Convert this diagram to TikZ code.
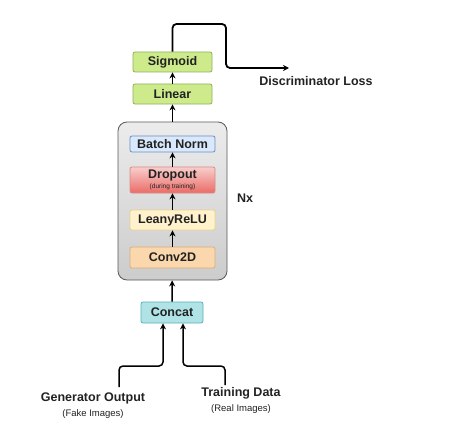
\documentclass[tikz,border=0pt]{standalone}
\usepackage{fontspec}
\setmainfont{Liberation Sans}
\usetikzlibrary{arrows.meta}
\definecolor{greenfill}{HTML}{CDEB8B}
\definecolor{greenline}{HTML}{8FAF5E}
\definecolor{bluefill}{HTML}{DAE8FC}
\definecolor{blueline}{HTML}{6C8EBF}
\definecolor{redtop}{HTML}{F8CECC}
\definecolor{redbot}{HTML}{EA6B66}
\definecolor{redline}{HTML}{D98A88}
\definecolor{yellowfill}{HTML}{FFF2CC}
\definecolor{yellowline}{HTML}{E8D38A}
\definecolor{orangefill}{HTML}{FAD7AC}
\definecolor{orangeline}{HTML}{D9AE7C}
\definecolor{tealfill}{HTML}{B0E3E6}
\definecolor{tealline}{HTML}{56B1B6}
\definecolor{textgray}{HTML}{222222}
\tikzset{
  layer/.style={rounded corners=2pt, line width=0.8pt, minimum width=85pt,
    inner sep=0pt, text=textgray, font=\fontsize{12.5}{13}\selectfont\bfseries},
  bigtext/.style={font=\fontsize{12.5}{13}\selectfont\bfseries, text=textgray},
  smalltext/.style={font=\fontsize{9.5}{10}\selectfont, text=textgray},
  flow/.style={-{Stealth[length=6pt,width=6pt]}, line width=1.5pt, black}
}
\begin{document}
\begin{tikzpicture}[x=1pt, y=1pt]
    \useasboundingbox (0,0) rectangle (458,-428);
    % repeated block
    \node[draw=gray!70!black, line width=0.8pt, rounded corners=9pt, top color=gray!15,
      bottom color=gray!40, minimum width=109pt, minimum height=158pt] (block) at (172.5,-201) {};
    \node[layer, draw=blueline, fill=bluefill, minimum height=16pt] (bn) at (172.5,-144) {Batch Norm};
    \node[layer, draw=redline, top color=redtop, bottom color=redbot, minimum height=26pt,
      align=center] (drop) at (172.5,-180) {Dropout\\[-3pt]{\fontsize{6.5}{6.5}\selectfont\mdseries (during training)}};
    \node[layer, draw=yellowline, fill=yellowfill, minimum height=20pt] (relu) at (172.5,-220) {LeanyReLU};
    \node[layer, draw=orangeline, fill=orangefill, minimum height=21pt] (conv) at (172.5,-257.5) {Conv2D};
    \node[bigtext] (nx) at (245,-198) {Nx};
    % head
    \node[layer, draw=greenline, fill=greenfill, minimum width=79pt, minimum height=20pt] (lin) at (172.5,-94) {Linear};
    \node[layer, draw=greenline, fill=greenfill, minimum width=79pt, minimum height=20pt] (sig) at (172.5,-62) {Sigmoid};
    \node[bigtext] (loss) at (316,-81) {Discriminator Loss};
    % input
    \node[layer, draw=tealline, fill=tealfill, minimum width=62pt, minimum height=21pt] (cat) at (172,-312.5) {Concat};
    \node[bigtext] (gen) at (93,-398) {Generator Output};
    \node[smalltext] (fake) at (93,-414) {(Fake Images)};
    \node[bigtext] (train) at (241,-393) {Training Data};
    \node[smalltext] (real) at (241,-409) {(Real Images)};
    \coordinate (genend) at (119,-387);
    \coordinate (trainend) at (225,-385);
    \coordinate (lossend) at (289,-68);
    % connectors
    \draw[flow] (conv) -- (relu);
    \draw[flow] (relu) -- (drop);
    \draw[flow] (drop) -- (bn);
    \draw[flow] (cat) -- (block);
    \draw[flow] (block) -- (lin);
    \draw[flow] (lin) -- (sig);
    \draw[flow, line width=1.8pt, rounded corners=4pt] (sig.north) -- (172.5,-24) -- (226,-24) -- (226,-68) -- (lossend);
    \draw[flow, rounded corners=4pt] (genend) -- (119,-366) -- (163,-366) -- ([xshift=-9pt]cat.south);
    \draw[flow, rounded corners=4pt] (trainend) -- (225,-366) -- (183,-366) -- ([xshift=11pt]cat.south);
  \end{tikzpicture}
\end{document}
